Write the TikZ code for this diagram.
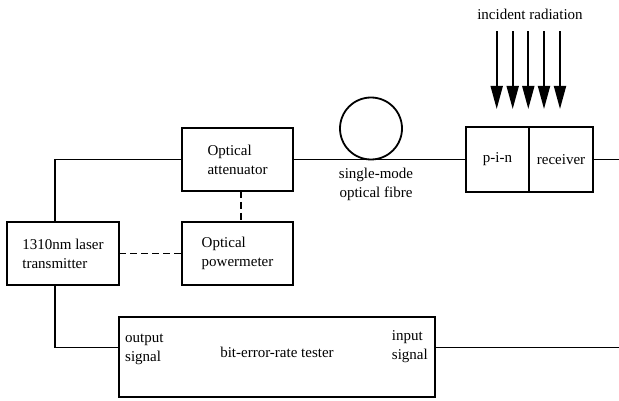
\documentclass[tikz,border=0pt]{standalone}
\usepackage{fontspec}
\setmainfont{Liberation Serif}
\usetikzlibrary{arrows.meta,calc}
\begin{document}
\begin{tikzpicture}[x=1pt,y=-1pt,
  every node/.style={font=\fontsize{15}{19}\selectfont},
  box/.style={draw,line width=1.8pt,inner sep=0pt,outer sep=0pt,align=left},
  wire/.style={line width=1.8pt},
  dashwire/.style={line width=1.8pt,dash pattern=on 7pt off 4pt},
  ray/.style={line width=1.8pt,-{Triangle[width=12pt,length=23pt]}},
  lbl/.style={inner sep=0pt,align=left}]
\useasboundingbox (0,0) rectangle (619,401);
\node[box,minimum width=111pt,minimum height=63pt] (att) at (237.5,159.5) {Optical\\attenuator};
\node[box,minimum width=111pt,minimum height=63pt] (pm) at (237.5,253.5) {Optical\\powermeter};
\node[box,minimum width=112pt,minimum height=63pt] (laser) at (63,253.5) {1310nm laser\\transmitter};
\node[box,minimum width=316pt,minimum height=80pt] (ber) at (277,357) {};
\node[box,minimum width=63pt,minimum height=65pt] (pin) at (497.5,159.5) {p-i-n};
\node[box,minimum width=64pt,minimum height=65pt,anchor=west] (rec) at (pin.east) {receiver};
\node[draw,circle,line width=1.8pt,minimum size=62pt,inner sep=0pt,outer sep=0pt] (coil) at (371,128.5) {};
\node[lbl,align=center] (fibre) at (376,184) {single-mode\\optical fibre};
\node[lbl] (inc) at (530,14) {incident radiation};
\node[lbl,anchor=west] (outs) at (125,349) {output\\signal};
\node[lbl,anchor=east] (ins) at (428,346.5) {input\\signal};
\node[lbl] (bert) at (277,352) {bit-error-rate tester};
\coordinate (rxend) at (619,159.5);
\coordinate (berend) at (619,347.5);
\draw[wire] ([xshift=-8pt]laser.north) |- (att.west);
\draw[wire] (att.east) -- (pin.west);
\draw[wire] (rec.east) -- (rxend);
\draw[wire] ([xshift=-8pt]laser.south) |- ([yshift=9.5pt]ber.west);
\draw[wire] ([yshift=9.5pt]ber.east) -- (berend);
\draw[dashwire] ([xshift=3.5pt]att.south) -- ([xshift=3.5pt]pm.north);
\draw[dashwire] (laser.east) -- (pm.west);
\foreach \i/\x in {1/496.7,2/512.7,3/528.3,4/544,5/560}{
  \coordinate (a\i) at (\x,31.5);
  \draw[ray] (a\i) -- (a\i |- 0,109);
}
\end{tikzpicture}
\end{document}
